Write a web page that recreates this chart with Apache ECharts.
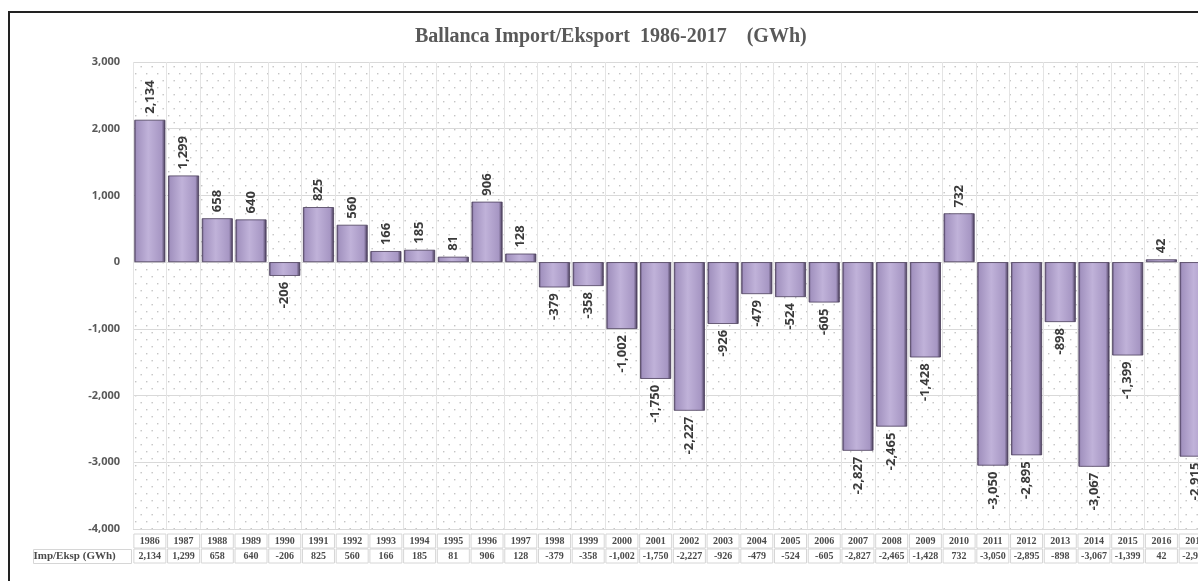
<!DOCTYPE html>
<html>
<head>
<meta charset="utf-8">
<script src="https://cdn.jsdelivr.net/npm/echarts@6/dist/echarts.min.js"></script>
<style>
    html, body { margin: 0; padding: 0; overflow: hidden; background: #fff; }
    #frame { position: absolute; left: 8px; top: 11px; width: 1300px; height: 700px; border: 2px solid #222; box-sizing: border-box; }
    #balChart { position: absolute; left: 0; top: 0; width: 1240px; height: 581px; }
</style>
</head>
<body>
<div id="frame"></div>
<div id="balChart"></div>
<script>
/* Ballanca Import/Eksport 1986-2017 (GWh) */
var years = ['1986', '1987', '1988', '1989', '1990', '1991', '1992', '1993', '1994', '1995', '1996',
    '1997', '1998', '1999', '2000', '2001', '2002', '2003', '2004', '2005', '2006', '2007', '2008',
    '2009', '2010', '2011', '2012', '2013', '2014', '2015', '2016', '2017'];
var impEksp = [2134, 1299, 658, 640, -206, 825, 560, 166, 185, 81, 906,
    128, -379, -358, -1002, -1750, -2227, -926, -479, -524, -605, -2827, -2465,
    -1428, 732, -3050, -2895, -898, -3067, -1399, 42, -2915];
var yTicks = [-4000, -3000, -2000, -1000, 0, 1000, 2000, 3000];

function fmt(v) {
    var s = Math.abs(v).toString().replace(/\B(?=(\d{3})+(?!\d))/g, ',');
    return (v < 0 ? '-' : '') + s;
}

// dotted background of the plot area
function dotPattern() {
    var c = document.createElement('canvas');
    c.width = 11;
    c.height = 14;
    var ctx = c.getContext('2d');
    ctx.fillStyle = '#ffffff';
    ctx.fillRect(0, 0, 11, 14);
    ctx.fillStyle = '#c4c4c4';
    ctx.fillRect(3, 3, 1.4, 1.4);
    ctx.fillRect(8.5, 10, 1.4, 1.4);
    return c;
}

var barColor = new echarts.graphic.LinearGradient(0, 0, 1, 0, [
    { offset: 0, color: '#55476a' },
    { offset: 0.07, color: '#a292bf' },
    { offset: 0.45, color: '#c0b2d9' },
    { offset: 0.88, color: '#a696c3' },
    { offset: 1, color: '#3f344f' }
]);

var barData = impEksp.map(function (v) {
    return {
        value: v,
        label: {
            position: v >= 0 ? 'top' : 'bottom',
            align: v >= 0 ? 'left' : 'right'
        }
    };
});

var tableFont = '"Liberation Serif", "DejaVu Serif", serif';
var cellStyle = {
    width: 32,
    height: 14,
    lineHeight: 14,
    align: 'center',
    borderColor: '#d6d6d6',
    borderWidth: 1,
    fontFamily: tableFont,
    fontSize: 10,
    fontWeight: 'bold',
    color: '#4a4a4a'
};

var dom = document.getElementById('balChart');
var myChart = echarts.init(dom);
var option = {
    animation: false,
    title: {
        text: 'Ballanca Import/Eksport  1986-2017    (GWh)',
        left: 410,
        top: 22,
        textStyle: {
            fontFamily: tableFont,
            fontSize: 20,
            fontWeight: 'bold',
            color: '#595959'
        }
    },
    grid: {
        left: 133,
        top: 62,
        width: 1079,
        height: 467,
        show: true,
        borderWidth: 0,
        backgroundColor: { image: dotPattern(), repeat: 'repeat' }
    },
    xAxis: [{
        type: 'category',
        data: years,
        position: 'bottom',
        axisLine: { show: false },
        axisTick: { show: false },
        splitLine: { show: true, lineStyle: { color: '#e4e4e4', width: 1 } },
        axisLabel: {
            interval: 0,
            margin: 5,
            formatter: function (v) { return '{c|' + v + '}'; },
            rich: { c: cellStyle }
        }
    }, {
        type: 'category',
        data: years,
        position: 'bottom',
        offset: 15,
        axisLine: { show: false },
        axisTick: { show: false },
        axisLabel: {
            interval: 0,
            margin: 5,
            formatter: function (v, i) { return '{c|' + fmt(impEksp[i]) + '}'; },
            rich: { c: cellStyle }
        }
    }],
    yAxis: {
        type: 'value',
        min: yTicks[0],
        max: yTicks[yTicks.length - 1],
        interval: 1000,
        axisLine: { show: false },
        axisTick: { show: false },
        splitLine: { lineStyle: { color: '#d9d9d9', width: 1 } },
        axisLabel: {
            margin: 13,
            formatter: function (v) { return fmt(v); },
            fontFamily: '"Open Sans", "Noto Sans", sans-serif',
            fontSize: 11,
            fontWeight: 'bold',
            color: '#595959'
        }
    },
    graphic: [{
        type: 'text',
        left: 33,
        top: 549,
        style: {
            text: 'Imp/Eksp (GWh)',
            width: 98,
            height: 14,
            lineHeight: 14,
            align: 'center',
            borderColor: '#d6d6d6',
            borderWidth: 1,
            fontFamily: tableFont,
            fontSize: 11,
            fontWeight: 'bold',
            fill: '#4a4a4a'
        }
    }],
    series: [{
        name: 'Imp/Eksp (GWh)',
        type: 'bar',
        data: barData,
        barCategoryGap: '8%',
        itemStyle: {
            color: barColor,
            borderColor: '#4a3d5a',
            borderWidth: 0.8
        },
        label: {
            show: true,
            rotate: 90,
            distance: 6,
            verticalAlign: 'middle',
            formatter: function (p) { return fmt(p.value); },
            fontFamily: '"Noto Sans", "Open Sans", sans-serif',
            fontSize: 13,
            fontWeight: 'bold',
            color: '#3a3a3a'
        }
    }]
};
myChart.setOption(option);
</script>
</body>
</html>
